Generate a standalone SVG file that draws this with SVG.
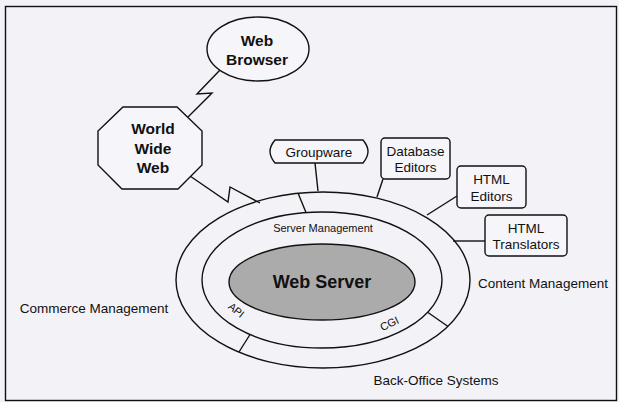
<svg xmlns="http://www.w3.org/2000/svg" width="619" height="402" viewBox="0 0 619 402">
<style>
text{font-family:"Liberation Sans",Arial,sans-serif;fill:#111;text-anchor:middle}
.b{font-weight:bold;font-size:15.5px}
.r{font-size:13.5px}
.s{fill:none;stroke:#111;stroke-width:1.4}
.box{fill:#f6f5f9;stroke:#111;stroke-width:1.4}
</style>
<rect x="0" y="0" width="619" height="402" fill="#f3f2f7"/>
<rect x="5.5" y="6.5" width="611" height="394" fill="none" stroke="#111" stroke-width="1.4"/>

<g id="connectors" class="s">
<polyline points="220,70 197,94 212,93 188,117"/>
<polyline points="190,176 228,202 230,187 260,203"/>
<line x1="315" y1="163" x2="318" y2="191"/>
<line x1="383" y1="179" x2="377" y2="197"/>
<line x1="457" y1="196" x2="427" y2="215"/>
<line x1="485" y1="241" x2="453" y2="241"/>
</g>

<g id="server">
<ellipse cx="323" cy="280" rx="147" ry="88" class="s"/>
<ellipse cx="322" cy="280" rx="120" ry="68" class="s"/>
<ellipse cx="322" cy="282" rx="93" ry="38" fill="#ababab" stroke="#111" stroke-width="1.4"/>
<line x1="298" y1="193" x2="306" y2="212.5" class="s"/>
<line x1="250" y1="334.5" x2="239" y2="352" class="s"/>
<line x1="428" y1="312.5" x2="448" y2="326.5" class="s"/>
<text x="322" y="288" style="font-weight:bold;font-size:18px">Web Server</text>
<text x="323" y="232" style="font-size:11px">Server Management</text>
<text x="0" y="0" style="font-size:10.5px" transform="translate(234,313) rotate(39)">API</text>
<text x="0" y="0" style="font-size:11px" transform="translate(391,327) rotate(-25)">CGI</text>
</g>

<g id="browser">
<ellipse cx="258" cy="49" rx="51" ry="32" class="box"/>
<text x="257" y="46" class="b">Web</text>
<text x="257" y="65" class="b">Browser</text>
</g>

<g id="www">
<polygon points="123,107 177,107 202,131 202,165 178,189 122,189 98,165 98,131" class="box"/>
<text x="153" y="134" class="b">World</text>
<text x="153" y="154" class="b">Wide</text>
<text x="153" y="173" class="b">Web</text>
</g>

<g id="groupware">
<path d="M275,140 L363,140 Q368,146 368,151.5 Q368,157 363,163 L275,163 Q270,157 270,151.5 Q270,146 275,140 Z" class="box"/>
<text x="319" y="157" class="r">Groupware</text>
</g>

<g id="dbeditors">
<rect x="381" y="138" width="69" height="41" rx="4" class="box"/>
<text x="415.5" y="156" class="r">Database</text>
<text x="415.5" y="172" class="r">Editors</text>
</g>

<g id="htmleditors">
<rect x="457" y="166" width="69" height="42" rx="4" class="box"/>
<text x="491.5" y="184" class="r">HTML</text>
<text x="491.5" y="201" class="r">Editors</text>
</g>

<g id="htmltranslators">
<rect x="485" y="215" width="82" height="41" rx="4" class="box"/>
<text x="526" y="233" class="r">HTML</text>
<text x="526" y="249" class="r">Translators</text>
</g>

<g id="labels">
<text x="543" y="288" class="r">Content Management</text>
<text x="94" y="313" class="r">Commerce Management</text>
<text x="436" y="385" class="r">Back-Office Systems</text>
</g>
</svg>
